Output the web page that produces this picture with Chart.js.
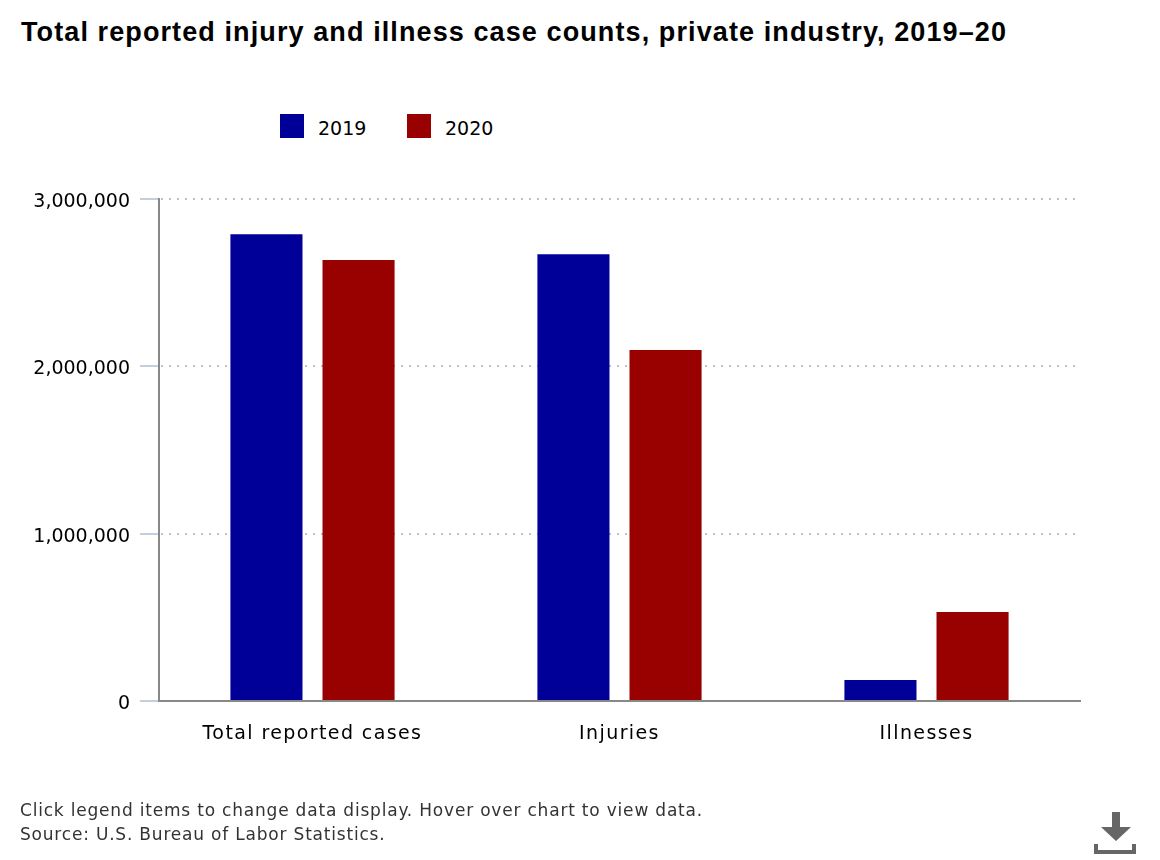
<!DOCTYPE html>
<html>
<head>
<meta charset="utf-8">
<title>Total reported injury and illness case counts</title>
<script src="https://cdn.jsdelivr.net/npm/chart.js@4"></script>
<style>
  html, body { margin: 0; padding: 0; background: #fff; }
  body { width: 1160px; height: 860px; position: relative; overflow: hidden; font-family: "DejaVu Sans", Verdana, sans-serif; color: #000; }
  canvas { position: absolute; left: 0; top: 0; }
  #title { position: absolute; left: 21px; top: 17px; font-family: "Liberation Sans", Arial, sans-serif; font-size: 27px; line-height: 30px; font-weight: bold; letter-spacing: 1.1px; white-space: nowrap; }
  #legend { position: absolute; left: 280px; top: 114px; height: 24px; }
  .legend-item { position: absolute; top: 0; height: 24px; cursor: pointer; white-space: nowrap; font-size: 19px; line-height: 28px; }
  .legend-item i { position: absolute; left: 0; top: 0; width: 24px; height: 24px; }
  .legend-item span { position: absolute; left: 38px; top: 0; }
  .legend-item.off { opacity: 0.35; }
  #notes { position: absolute; left: 20px; top: 798px; font-size: 17px; line-height: 24px; color: #333; white-space: nowrap; letter-spacing: 0.8px; }
  #download { position: absolute; left: 1094px; top: 812px; }
</style>
</head>
<body>
<div id="title">Total reported injury and illness case counts, private industry, 2019–20</div>
<div id="legend"></div>
<canvas id="injuryChart" width="1160" height="860"></canvas>
<div id="notes">Click legend items to change data display. Hover over chart to view data.<br>Source: U.S. Bureau of Labor Statistics.</div>
<svg id="download" width="42" height="42" viewBox="0 0 42 42">
  <path d="M18 0h8v15h11L22 29 7 15h11z" fill="#666"/>
  <path d="M0 32h4v6h34v-6h4v10H0z" fill="#666"/>
</svg>
<script>
const categories = ["Total reported cases", "Injuries", "Illnesses"];
const seriesNames = ["2019", "2020"];
const values2019 = [2790000, 2670000, 125000];
const values2020 = [2635000, 2098000, 532000];
const seriesColors = ["#000099", "#990000"];
const yTicks = [0, 1000000, 2000000, 3000000];

// x labels are on a layer above the datasets, so only they get the wider spacing
const spacedCategoryLabels = {
  id: "spacedCategoryLabels",
  afterDatasetsDraw: (chart) => { chart.ctx.letterSpacing = "1.4px"; },
  afterDraw: (chart) => { chart.ctx.letterSpacing = "0px"; },
};

const chart = new Chart(document.getElementById("injuryChart"), {
  type: "bar",
  data: {
    labels: categories,
    datasets: [
      { label: seriesNames[0], data: values2019, backgroundColor: seriesColors[0] },
      { label: seriesNames[1], data: values2020, backgroundColor: seriesColors[1] },
    ],
  },
  plugins: [spacedCategoryLabels],
  options: {
    responsive: false,
    animation: false,
    categoryPercentage: 0.6,
    barPercentage: 0.7826,
    layout: { padding: { top: 199, right: 80, left: 0, bottom: 0 } },
    plugins: {
      legend: { display: false },
      title: { display: false },
    },
    scales: {
      x: {
        afterFit: (scale) => { scale.height = 159; },
        grid: { display: false, drawTicks: false },
        border: { color: "#888888", width: 2 },
        ticks: { color: "#000", padding: 22, z: 1, font: { family: "DejaVu Sans", size: 19 } },
      },
      y: {
        min: 0,
        max: 3000000,
        afterFit: (scale) => { scale.width = 159; },
        afterBuildTicks: (scale) => { scale.ticks = yTicks.map((value) => ({ value })); },
        grid: { color: "#c0c0c0", tickColor: "#c0d0e0", tickLength: 19, lineWidth: 2, tickBorderDash: [] },
        border: { color: "#888888", width: 2, dash: [2, 6], dashOffset: -1 },
        ticks: {
          color: "#000",
          padding: 10,
          labelOffset: 3,
          font: { family: "DejaVu Sans", size: 19 },
          callback: (value) => value.toLocaleString("en-US"),
        },
      },
    },
  },
});

// html legend, same click behaviour as the original
const legendEl = document.getElementById("legend");
const legendLeft = [0, 127];
seriesNames.forEach((name, i) => {
  const item = document.createElement("div");
  item.className = "legend-item";
  item.style.left = legendLeft[i] + "px";
  item.innerHTML = '<i style="background:' + seriesColors[i] + '"></i><span>' + name + "</span>";
  item.addEventListener("click", () => {
    const visible = chart.isDatasetVisible(i);
    chart.setDatasetVisibility(i, !visible);
    item.classList.toggle("off", visible);
    chart.update();
  });
  legendEl.appendChild(item);
});
</script>
</body>
</html>
